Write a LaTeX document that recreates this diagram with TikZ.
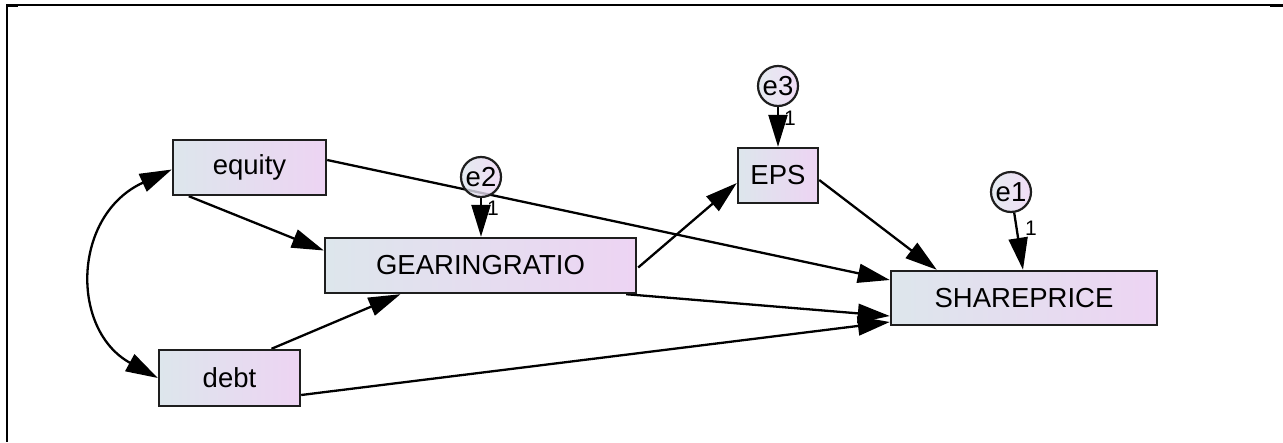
\documentclass[tikz,border=0pt]{standalone}
\usepackage{fontspec}
\setmainfont{Liberation Sans}
\usetikzlibrary{arrows.meta,backgrounds}
\definecolor{cleft}{RGB}{221,230,236}
\definecolor{cright}{RGB}{237,212,243}
\definecolor{edge}{RGB}{30,30,30}
\newcommand{\boxfont}{\fontsize{27.5}{30}\selectfont}
\newcommand{\onefont}{\fontsize{21}{23}\selectfont}
\tikzset{
  obs/.style={draw=edge, line width=2.4pt, left color=cleft, right color=cright,
    minimum height=55pt, inner sep=0pt, font=\boxfont},
  err/.style={circle, draw=edge, line width=2.2pt, left color=cleft, right color=cright,
    fill opacity=0.8, text opacity=1, draw opacity=1,
    minimum size=40pt, inner sep=0pt, font=\boxfont},
  reg/.style={line width=2.3pt, draw=black, -{Triangle[length=32pt,width=19pt]}},
  cov/.style={line width=2.3pt, draw=black, {Triangle[length=32pt,width=19pt]}-{Triangle[length=32pt,width=19pt]}},
  one/.style={font=\onefont, inner sep=0pt}
}
\begin{document}
\begin{tikzpicture}[x=1pt,y=-1pt]
\useasboundingbox (0,0) rectangle (1283,442);
% frame
\draw[line width=1.5pt] (6,5) -- (1283,5);
\draw[line width=3pt] (6,5.8) -- (18,5.8);
\draw[line width=3pt] (1270,5.8) -- (1283,5.8);
\draw[line width=2pt] (7,5) -- (7,442);
% observed variables
\node[obs, minimum width=153pt] (equity) at (249.5,167.5) {equity};
\node[obs, minimum width=141pt, minimum height=56pt] (debt) at (229.5,378) {debt};
\node[obs, minimum width=311pt] (gear) at (480.5,265.5) {GEARINGRATIO};
\node[obs, minimum width=80pt] (eps) at (778,175.5) {EPS};
\node[obs, minimum width=266pt, minimum height=54pt] (share) at (1024,298) {SHAREPRICE};
% errors
\node[err] (e1) at (1011,192) {e1};
\node[err] (e2) at (481,177) {e2};
\node[err] (e3) at (778,86) {e3};
% labels
\node[one] (l1) at (1031,228) {1};
\node[one] (l2) at (493,208) {1};
\node[one] (l3) at (790,118) {1};
\begin{pgfonlayer}{background}
% covariance
\draw[cov] ([yshift=-2pt]equity.west) .. controls (72,215) and (70,330) .. (debt.west);
% regressions
\draw[reg] ([xshift=17pt]equity.south west) -- ([yshift=15pt]gear.west);
\draw[reg] ([yshift=7.5pt]equity.east) -- ([yshift=18pt]share.west);
\draw[reg] ([xshift=42pt]debt.north) -- ([xshift=-80pt]gear.south);
\draw[reg] ([yshift=-17pt]debt.east) -- ([yshift=-24pt]share.west);
\draw[reg] ([yshift=-2pt,xshift=1pt]gear.east) -- ([yshift=-7.5pt]eps.west);
\draw[reg] ([xshift=-11pt]gear.south east) -- ([yshift=-18pt]share.west);
\draw[reg] ([yshift=-4.5pt]eps.east) -- ([xshift=47pt]share.north west);
\draw[reg] (e1) -- ([xshift=-1pt]share.north);
\draw[reg] (e2) -- (gear.north -| e2);
\draw[reg] (e3) -- (eps.north);
\end{pgfonlayer}
\end{tikzpicture}
\end{document}
